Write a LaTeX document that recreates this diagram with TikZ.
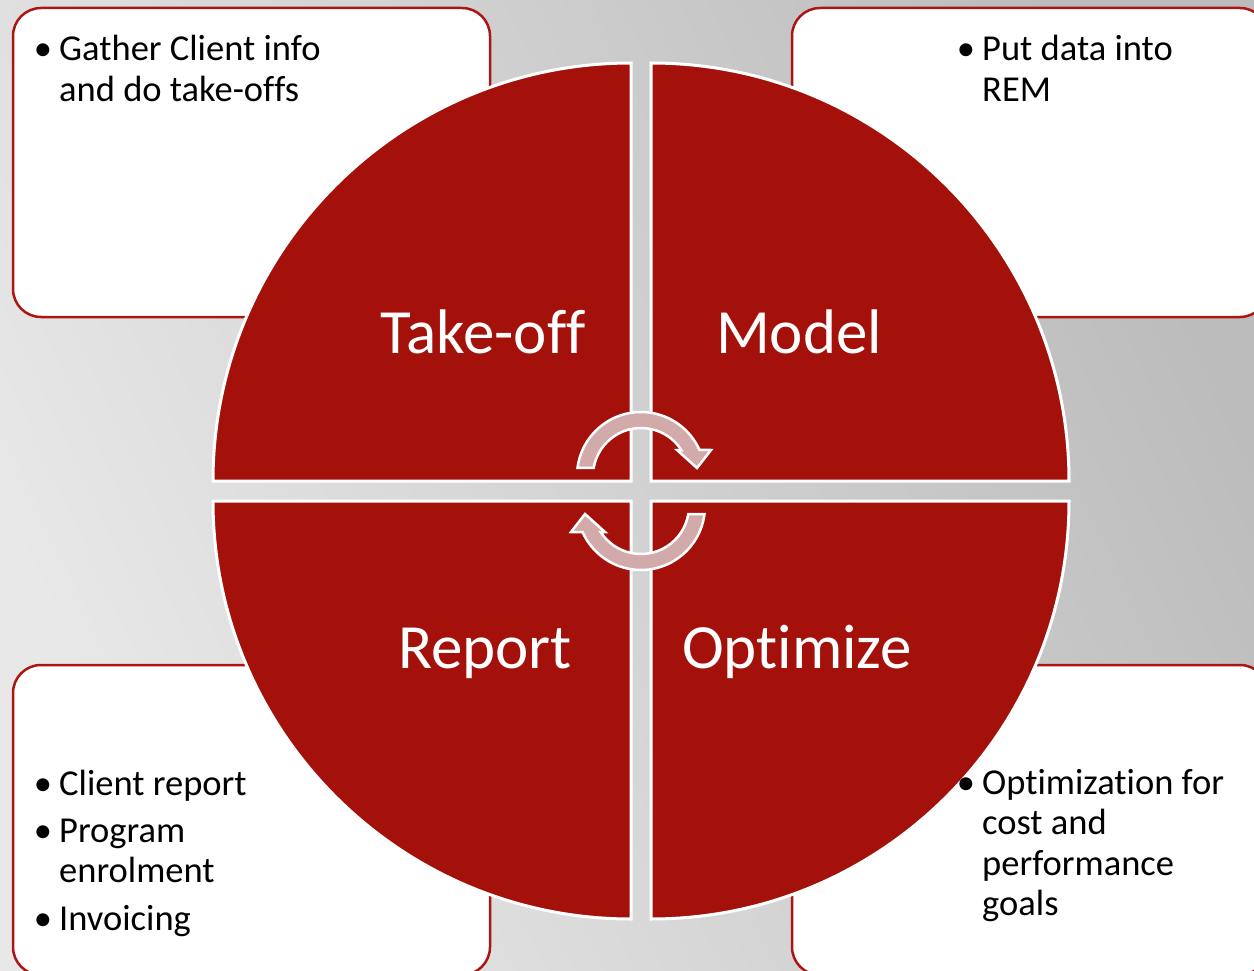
\documentclass[tikz,border=0pt]{standalone}
\usepackage{fontspec}
\setmainfont{Carlito}[Ligatures={NoCommon,NoRequired,NoContextual}]
\definecolor{dred}{RGB}{163,17,10}
\definecolor{boxred}{RGB}{172,22,18}
\definecolor{arrowpink}{RGB}{210,170,170}
\definecolor{bgl}{RGB}{232,232,232}
\definecolor{bgd}{RGB}{188,188,188}
\begin{document}
\begin{tikzpicture}[x=1pt,y=1pt,
  panel/.style={draw=boxred, line width=2.5pt, fill=white, rounded corners=28pt, inner sep=0pt},
  sector/.style={fill=dred, draw=white, line width=3pt, line join=miter},
  cyc/.style={fill=arrowpink, draw=white, line width=2.5pt, line join=miter},
  big/.style={text=white, font=\fontsize{63}{70}\selectfont, anchor=base, inner sep=0pt},
  item/.style={font=\fontsize{36.5}{40.5}\selectfont, anchor=base west, align=left, inner sep=0pt},
  dot/.style={font=\fontsize{36.5}{40.5}\selectfont, anchor=base, inner sep=0pt}]
\useasboundingbox (0,0) rectangle (1254,-971);
\clip (0,0) rectangle (1254,-971);
\shade[left color=bgl, right color=bgd, shading angle=115] (0,0) rectangle (1254,-971);

% panels
\node[panel, minimum width=477pt, minimum height=309pt] (p1) at (251.5,-162.5) {};
\node[panel, minimum width=476pt, minimum height=309pt] (p2) at (1030,-162.5) {};
\node[panel, minimum width=477pt, minimum height=310pt] (p3) at (251.5,-820) {};
\node[panel, minimum width=476pt, minimum height=310pt] (p4) at (1030,-820) {};

% sectors
\path[sector] (631,-481) -- (213,-481) arc[start angle=180, end angle=90, radius=418] -- cycle;
\path[sector] (651,-481) -- (651,-63) arc[start angle=90, end angle=0, radius=418] -- cycle;
\path[sector] (631,-501) -- (631,-919) arc[start angle=270, end angle=180, radius=418] -- cycle;
\path[sector] (651,-501) -- (1069,-501) arc[start angle=0, end angle=-90, radius=418] -- cycle;

% cycle arrows
\begin{scope}[shift={(641,-476)}]
\path[cyc] (172.8:64) arc[start angle=172.8, end angle=24, radius=64]
  -- (70,26) -- (56,8) -- (36,26) -- (32.8:48)
  arc[start angle=32.8, end angle=170.4, radius=48] -- cycle;
\end{scope}
\begin{scope}[shift={(641,-506)}]
\path[cyc] (-7.2:64) arc[start angle=-7.2, end angle=-156, radius=64]
  -- (-70,-26) -- (-56,-8) -- (-36,-26) -- (-147.2:48)
  arc[start angle=-147.2, end angle=-9.6, radius=48] -- cycle;
\end{scope}

% big labels
\node[big] (l1) at (483,-353) {Take-of\kern0ptf};
\node[big] (l2) at (799,-353) {Model};
\node[big] (l3) at (485,-668) {Report};
\node[big] (l4) at (797,-668) {Optimize};

% bullet texts (base anchor = last line's baseline)
\node[dot] (d1) at (43,-61) {•};
\node[item] (t1) at (59,-101.5) {Gather Client info\\and do take-of\kern0ptfs};
\node[dot] (d2) at (966,-61) {•};
\node[item] (t2) at (982,-101.5) {Put data into\\REM};
\node[dot] (d3) at (43,-795) {•};
\node[item] (t3) at (59,-795) {Client report};
\node[dot] (d4) at (43,-842) {•};
\node[item] (t4) at (59,-882.5) {Program\\enrolment};
\node[dot] (d5) at (43,-930) {•};
\node[item] (t5) at (59,-930) {Invoicing};
\node[dot] (d6) at (966,-794) {•};
\node[item] (t6) at (982,-915.5) {Optimization for\\cost and\\performance\\goals};
\end{tikzpicture}
\end{document}
